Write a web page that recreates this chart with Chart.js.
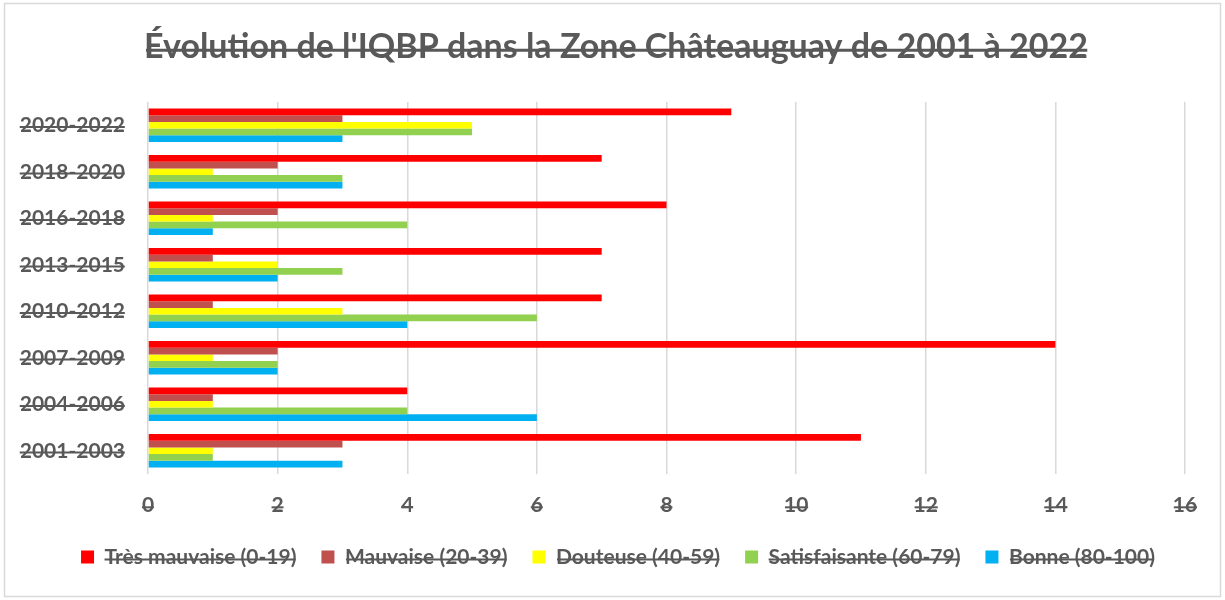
<!DOCTYPE html>
<html>
<head>
<meta charset="utf-8">
<script src="https://cdn.jsdelivr.net/npm/chart.js@4"></script>
<style>
html,body{margin:0;padding:0;background:#fff;}
#wrap{width:1225px;height:600px;position:relative;}
</style>
</head>
<body>
<div id="wrap"><canvas id="c" width="1225" height="600"></canvas></div>
<script>
// ---- data ----
const chartTitle = "Évolution de l'IQBP dans la Zone Châteauguay de 2001 à 2022";
const periods = ['2020-2022', '2018-2020', '2016-2018', '2013-2015', '2010-2012', '2007-2009', '2004-2006', '2001-2003'];
const seriesNames = ['Très mauvaise (0-19)', 'Mauvaise (20-39)', 'Douteuse (40-59)', 'Satisfaisante (60-79)', 'Bonne (80-100)'];
const tresMauvaise = [9, 7, 8, 7, 7, 14, 4, 11];
const mauvaise = [3, 2, 2, 1, 1, 2, 1, 3];
const douteuse = [5, 1, 1, 2, 3, 1, 1, 1];
const satisfaisante = [5, 3, 4, 3, 6, 2, 4, 1];
const bonne = [3, 3, 1, 2, 4, 2, 6, 3];
const seriesColors = ['#FF0000', '#C0504D', '#FFFF00', '#92D050', '#00B0F0'];
const xMin = 0, xMax = 16, xStep = 2;

const seriesValues = [tresMauvaise, mauvaise, douteuse, satisfaisante, bonne];
const textColor = '#595959';
const FONT = 'Lato';
const titleCenterX = 616;
const legendCenterX = 618;

function strikeLine(ctx, x0, x1, y, w) {
  ctx.beginPath();
  ctx.lineWidth = w;
  ctx.moveTo(x0, y);
  ctx.lineTo(x1, y);
  ctx.stroke();
}
function descentToBaseline(ctx, baseline) {
  ctx.textBaseline = baseline;
  return ctx.measureText('H').actualBoundingBoxDescent;
}

const framePlugin = {
  id: 'frame',
  afterLayout(chart) {
    const tb = chart.titleBlock;
    if (tb) {
      const dx = titleCenterX - (tb.left + tb.right) / 2;
      tb.left += dx; tb.right += dx;
    }
    const lg = chart.legend;
    if (lg) {
      const dx = legendCenterX - (lg.left + lg.right) / 2;
      lg.left += dx; lg.right += dx;
    }
  },
  beforeDraw(chart) {
    const ctx = chart.ctx;
    ctx.save();
    ctx.fillStyle = '#ffffff';
    ctx.fillRect(0, 0, chart.width, chart.height);
    ctx.strokeStyle = '#d9d9d9';
    ctx.lineWidth = 1.5;
    ctx.strokeRect(4.5, 3.5, chart.width - 9, chart.height - 7);
    ctx.restore();
  }
};

const strikePlugin = {
  id: 'strike',
  afterDraw(chart) {
    const ctx = chart.ctx;
    const H = Chart.helpers;
    ctx.save();
    ctx.strokeStyle = textColor;
    // title
    const tb = chart.titleBlock;
    if (tb && tb.options.display) {
      const f = H.toFont(tb.options.font);
      const pad = H.toPadding(tb.options.padding);
      ctx.font = f.string;
      ctx.textAlign = 'center';
      const cy = tb.top + pad.top + f.lineHeight / 2;
      const cx = (tb.left + tb.right) / 2;
      const base = cy + descentToBaseline(ctx, 'middle');
      const m = ctx.measureText(tb.options.text);
      strikeLine(ctx, cx - m.actualBoundingBoxLeft, cx + m.actualBoundingBoxRight, base - f.size * 0.23, 3);
    }
    // axis tick labels
    ['x', 'y'].forEach(id => {
      const sc = chart.scales[id];
      if (!sc || typeof sc.getLabelItems !== 'function') return;
      sc.getLabelItems().forEach(item => {
        const f = item.font;
        ctx.font = f.string;
        const o = item.options;
        ctx.textAlign = o.textAlign;
        const x = o.translation[0];
        const y = o.translation[1] + item.textOffset;
        const base = y + descentToBaseline(ctx, o.textBaseline);
        const m = ctx.measureText(String(item.label));
        strikeLine(ctx, x - m.actualBoundingBoxLeft, x + m.actualBoundingBoxRight, base - f.size * 0.24, 2);
      });
    });
    // legend labels
    const lg = chart.legend;
    if (lg && lg.legendHitBoxes) {
      const lo = lg.options.labels;
      const f = H.toFont(lo.font);
      ctx.font = f.string;
      ctx.textAlign = 'left';
      lg.legendHitBoxes.forEach((hb, i) => {
        const item = lg.legendItems[i];
        const tx = hb.left + lo.boxWidth + f.size / 2;
        const cy = hb.top + hb.height / 2;
        const base = cy + descentToBaseline(ctx, 'middle');
        const m = ctx.measureText(item.text);
        strikeLine(ctx, tx - m.actualBoundingBoxLeft, tx + m.actualBoundingBoxRight, base - f.size * 0.2, 2);
      });
    }
    ctx.restore();
  }
};

new Chart(document.getElementById('c'), {
  type: 'bar',
  data: {
    labels: periods,
    datasets: seriesNames.map((name, i) => ({
      label: name,
      data: seriesValues[i],
      backgroundColor: seriesColors[i],
      borderWidth: 0,
      categoryPercentage: 0.725,
      barPercentage: 1.0
    }))
  },
  options: {
    indexAxis: 'y',
    responsive: false,
    animation: false,
    devicePixelRatio: 1,
    layout: { padding: { left: 21, right: 40, top: 0, bottom: 22.5 } },
    plugins: {
      title: {
        display: true,
        text: chartTitle,
        color: textColor,
        font: { family: FONT, size: 34, weight: 'bold', lineHeight: 1.2 },
        padding: { top: 26.6, bottom: 34.6 }
      },
      legend: {
        position: 'bottom',
        labels: {
          color: textColor,
          font: { family: FONT, size: 21, weight: 'bold' },
          boxWidth: 13,
          boxHeight: 13,
          padding: 25
        }
      },
      tooltip: { enabled: false }
    },
    scales: {
      x: {
        min: xMin,
        max: xMax,
        ticks: {
          stepSize: xStep,
          color: textColor,
          font: { family: FONT, size: 21, weight: 'bold' },
          padding: 19
        },
        grid: { color: '#d9d9d9', lineWidth: 1.5, drawTicks: false },
        border: { display: false },
        afterFit(s) { s.height = 47.5; }
      },
      y: {
        ticks: {
          color: textColor,
          font: { family: FONT, size: 21, weight: 'bold' },
          padding: 23
        },
        grid: { display: false, drawTicks: false },
        border: { display: false },
        afterFit(s) { s.width = 127; }
      }
    }
  },
  plugins: [framePlugin, strikePlugin]
});
</script>
</body>
</html>
